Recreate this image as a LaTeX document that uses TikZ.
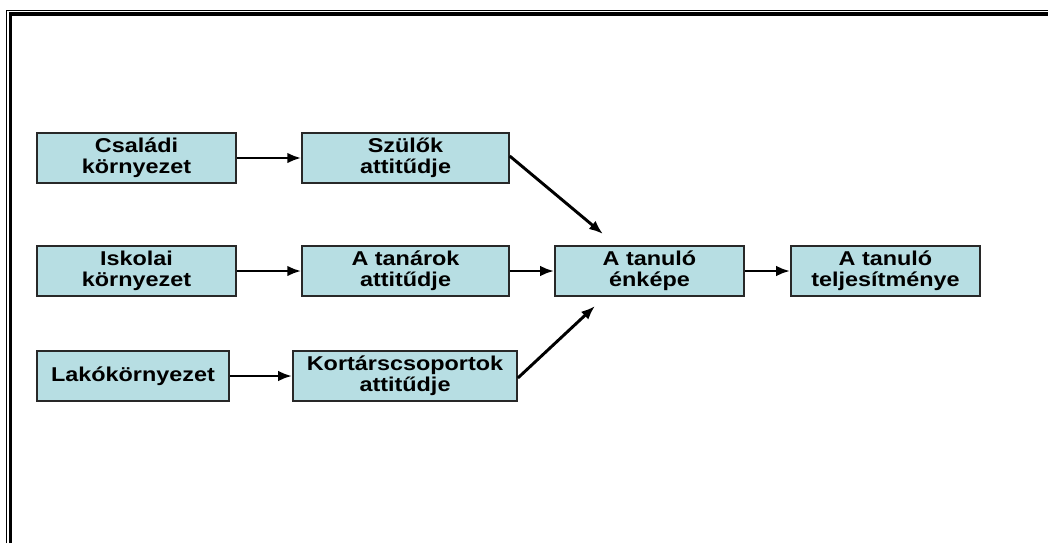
\documentclass[tikz,border=0pt]{standalone}
\usepackage{fontspec}
\setmainfont[FakeStretch=1.17]{Liberation Sans}
\usetikzlibrary{arrows.meta}

\definecolor{boxfill}{RGB}{183,222,227}
\definecolor{boxline}{RGB}{40,40,40}

\tikzset{every picture/.style={line width=0.75pt}}
\tikzset{
  factor/.style={draw=boxline, fill=boxfill, line width=1.3pt, inner sep=0pt,
    minimum height=37.5pt, align=center,
    font=\fontsize{15}{15.5}\selectfont\bfseries},
  influence/.style={line width=2.2pt, -{Latex[length=10.5pt,width=8pt]}}
}

\begin{document}
\begin{tikzpicture}[x=0.75pt,y=0.75pt,yscale=-1,xscale=1]
\useasboundingbox (0,0) rectangle (1048,543);

%Frame
\draw [line width=0.9pt] (6.5,543) -- (6.5,10.5) -- (1048,10.5) ;
\draw [line width=2.4pt] (10.5,543) -- (10.5,14) -- (1048,14) ;

% Text Node
\node [factor, minimum width=149pt] (csaladi) at (136.5,158) {Családi\\környezet};
% Text Node
\node [factor, minimum width=155pt] (szulok) at (405.5,158) {Szülők\\attitűdje};
% Text Node
\node [factor, minimum width=149pt] (iskolai) at (136.5,271) {Iskolai\\környezet};
% Text Node
\node [factor, minimum width=155pt] (tanarok) at (405.5,271) {A tanárok\\attitűdje};
% Text Node
\node [factor, minimum width=144pt] (lako) at (133,376) {Lakókörnyezet};
% Text Node
\node [factor, minimum width=168pt] (kortars) at (405,376) {Kortárscsoportok\\attitűdje};
% Text Node
\node [factor, minimum width=141.75pt] (enkep) at (649.5,271) {A tanuló\\énképe};
% Text Node
\node [factor, minimum width=141.75pt] (teljesitmeny) at (885.5,271) {A tanuló\\teljesítménye};

%free ends of the slanted arrows
\coordinate (enkepfelul) at (603,234);
\coordinate (enkepalul) at (595,306);

%Straight Lines
\draw [influence] (csaladi) -- (szulok) ;
\draw [influence] (iskolai) -- (tanarok) ;
\draw [influence] (lako) -- (kortars) ;
\draw [influence] (tanarok) -- (enkep) ;
\draw [influence] (enkep) -- (teljesitmeny) ;
%Slanted Lines
\draw [influence] (szulok.east) ++(0,-2) -- (enkepfelul) ;
\draw [influence] (kortars.east) ++(0,2) -- (enkepalul) ;
\end{tikzpicture}
\end{document}
